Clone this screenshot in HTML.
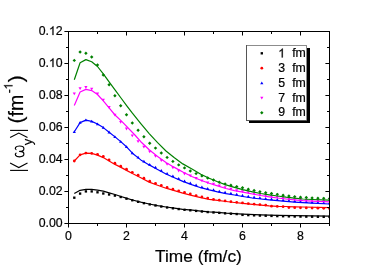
<!DOCTYPE html><html><head><meta charset="utf-8"><style>html,body{margin:0;padding:0;background:#fff}svg{display:block}text{font-family:"Liberation Sans",sans-serif;fill:#000;stroke:#000;stroke-width:.2px}</style></head><body>
<svg width="383" height="268" viewBox="0 0 383 268">
<rect width="383" height="268" fill="#fff"/>
<defs><clipPath id="c"><rect x="68" y="31" width="262" height="193"/></clipPath><filter id="f" x="0" y="0" width="383" height="268" filterUnits="userSpaceOnUse" color-interpolation-filters="sRGB"><feOffset dx="0" dy="0"/></filter></defs>
<g clip-path="url(#c)">
<path d="M74.3 193.5 L80.1 190.3 L85.9 189.4 L91.7 189.4 L97.5 190.1 L103.3 191.1 L109.1 192.8 L115.0 194.5 L121.0 196.5 L127.0 198.4 L132.4 200.0 L140.8 202.2 L149.2 204.0 L157.6 205.6 L166.0 207.0 L174.4 208.2 L182.8 209.3 L192.4 210.2 L200.8 211.1 L209.2 211.9 L217.6 212.4 L226.0 213.1 L234.4 213.6 L242.8 214.1 L260.8 214.8 L277.6 215.3 L294.4 215.7 L329.5 216.1" fill="none" stroke="#000000" stroke-width="1.2" stroke-linejoin="round"/>
<rect x="73.12" y="196.52" width="2.36" height="2.36" fill="#000000"/>
<rect x="78.92" y="192.42" width="2.36" height="2.36" fill="#000000"/>
<rect x="84.72" y="190.22" width="2.36" height="2.36" fill="#000000"/>
<rect x="90.52" y="190.22" width="2.36" height="2.36" fill="#000000"/>
<rect x="96.32" y="191.12" width="2.36" height="2.36" fill="#000000"/>
<rect x="102.12" y="192.32" width="2.36" height="2.36" fill="#000000"/>
<rect x="107.92" y="193.32" width="2.36" height="2.36" fill="#000000"/>
<rect x="113.72" y="194.42" width="2.36" height="2.36" fill="#000000"/>
<rect x="119.52" y="195.82" width="2.36" height="2.36" fill="#000000"/>
<rect x="125.32" y="197.52" width="2.36" height="2.36" fill="#000000"/>
<rect x="131.12" y="199.09" width="2.36" height="2.36" fill="#000000"/>
<rect x="136.92" y="200.61" width="2.36" height="2.36" fill="#000000"/>
<rect x="142.72" y="201.98" width="2.36" height="2.36" fill="#000000"/>
<rect x="148.52" y="203.22" width="2.36" height="2.36" fill="#000000"/>
<rect x="154.32" y="204.32" width="2.36" height="2.36" fill="#000000"/>
<rect x="160.12" y="205.34" width="2.36" height="2.36" fill="#000000"/>
<rect x="165.92" y="206.28" width="2.36" height="2.36" fill="#000000"/>
<rect x="171.72" y="207.11" width="2.36" height="2.36" fill="#000000"/>
<rect x="177.52" y="207.88" width="2.36" height="2.36" fill="#000000"/>
<rect x="183.32" y="208.58" width="2.36" height="2.36" fill="#000000"/>
<rect x="189.12" y="209.12" width="2.36" height="2.36" fill="#000000"/>
<rect x="194.92" y="209.72" width="2.36" height="2.36" fill="#000000"/>
<rect x="200.72" y="210.32" width="2.36" height="2.36" fill="#000000"/>
<rect x="206.52" y="210.88" width="2.36" height="2.36" fill="#000000"/>
<rect x="212.32" y="211.28" width="2.36" height="2.36" fill="#000000"/>
<rect x="218.12" y="211.66" width="2.36" height="2.36" fill="#000000"/>
<rect x="223.92" y="212.15" width="2.36" height="2.36" fill="#000000"/>
<rect x="229.72" y="212.51" width="2.36" height="2.36" fill="#000000"/>
<rect x="235.52" y="212.86" width="2.36" height="2.36" fill="#000000"/>
<rect x="241.32" y="213.70" width="2.36" height="2.36" fill="#000000"/>
<rect x="247.12" y="213.93" width="2.36" height="2.36" fill="#000000"/>
<rect x="252.92" y="214.16" width="2.36" height="2.36" fill="#000000"/>
<rect x="258.72" y="214.39" width="2.36" height="2.36" fill="#000000"/>
<rect x="264.52" y="214.57" width="2.36" height="2.36" fill="#000000"/>
<rect x="270.32" y="214.74" width="2.36" height="2.36" fill="#000000"/>
<rect x="276.12" y="214.91" width="2.36" height="2.36" fill="#000000"/>
<rect x="281.92" y="215.05" width="2.36" height="2.36" fill="#000000"/>
<rect x="287.72" y="215.19" width="2.36" height="2.36" fill="#000000"/>
<rect x="293.52" y="215.32" width="2.36" height="2.36" fill="#000000"/>
<rect x="299.32" y="215.39" width="2.36" height="2.36" fill="#000000"/>
<rect x="305.12" y="215.46" width="2.36" height="2.36" fill="#000000"/>
<rect x="310.92" y="215.52" width="2.36" height="2.36" fill="#000000"/>
<rect x="316.72" y="215.59" width="2.36" height="2.36" fill="#000000"/>
<rect x="322.52" y="215.65" width="2.36" height="2.36" fill="#000000"/>
<rect x="328.32" y="215.72" width="2.36" height="2.36" fill="#000000"/>
<path d="M74.3 161.0 L80.1 154.8 L85.9 153.1 L91.7 153.4 L97.5 155.1 L103.3 157.6 L109.1 161.0 L115.0 164.4 L121.0 167.4 L127.0 170.6 L132.4 173.5 L140.8 177.7 L149.2 182.1 L157.6 185.2 L166.0 188.2 L174.4 190.7 L182.8 193.1 L192.4 195.6 L200.8 197.6 L209.2 199.3 L217.6 200.4 L226.0 201.5 L234.4 202.5 L242.8 203.4 L252.4 204.3 L260.8 205.1 L269.2 205.8 L277.6 206.3 L286.0 206.5 L294.4 206.8 L302.8 207.0 L329.5 207.6" fill="none" stroke="#ff0000" stroke-width="1.2" stroke-linejoin="round"/>
<circle cx="74.30" cy="161.00" r="1.38" fill="#ff0000"/>
<circle cx="80.10" cy="154.80" r="1.38" fill="#ff0000"/>
<circle cx="85.90" cy="153.10" r="1.38" fill="#ff0000"/>
<circle cx="91.70" cy="153.40" r="1.38" fill="#ff0000"/>
<circle cx="97.50" cy="154.30" r="1.38" fill="#ff0000"/>
<circle cx="103.30" cy="156.50" r="1.38" fill="#ff0000"/>
<circle cx="109.10" cy="159.90" r="1.38" fill="#ff0000"/>
<circle cx="114.90" cy="163.24" r="1.38" fill="#ff0000"/>
<circle cx="120.70" cy="166.15" r="1.38" fill="#ff0000"/>
<circle cx="126.50" cy="169.23" r="1.38" fill="#ff0000"/>
<circle cx="132.30" cy="172.35" r="1.38" fill="#ff0000"/>
<circle cx="138.10" cy="175.25" r="1.38" fill="#ff0000"/>
<circle cx="143.90" cy="178.22" r="1.38" fill="#ff0000"/>
<circle cx="149.70" cy="181.18" r="1.38" fill="#ff0000"/>
<circle cx="155.50" cy="183.32" r="1.38" fill="#ff0000"/>
<circle cx="161.30" cy="185.42" r="1.38" fill="#ff0000"/>
<circle cx="167.10" cy="187.43" r="1.38" fill="#ff0000"/>
<circle cx="172.90" cy="189.15" r="1.38" fill="#ff0000"/>
<circle cx="178.70" cy="190.83" r="1.38" fill="#ff0000"/>
<circle cx="184.50" cy="192.44" r="1.38" fill="#ff0000"/>
<circle cx="190.30" cy="193.95" r="1.38" fill="#ff0000"/>
<circle cx="196.10" cy="195.58" r="1.38" fill="#ff0000"/>
<circle cx="201.90" cy="196.92" r="1.38" fill="#ff0000"/>
<circle cx="207.70" cy="198.10" r="1.38" fill="#ff0000"/>
<circle cx="213.50" cy="199.46" r="1.38" fill="#ff0000"/>
<circle cx="219.30" cy="200.22" r="1.38" fill="#ff0000"/>
<circle cx="225.10" cy="200.98" r="1.38" fill="#ff0000"/>
<circle cx="230.90" cy="201.68" r="1.38" fill="#ff0000"/>
<circle cx="236.70" cy="202.35" r="1.38" fill="#ff0000"/>
<circle cx="242.50" cy="202.97" r="1.38" fill="#ff0000"/>
<circle cx="248.30" cy="203.52" r="1.38" fill="#ff0000"/>
<circle cx="254.10" cy="204.06" r="1.38" fill="#ff0000"/>
<circle cx="259.90" cy="204.61" r="1.38" fill="#ff0000"/>
<circle cx="265.70" cy="205.11" r="1.38" fill="#ff0000"/>
<circle cx="271.50" cy="206.14" r="1.38" fill="#ff0000"/>
<circle cx="277.30" cy="206.48" r="1.38" fill="#ff0000"/>
<circle cx="283.10" cy="206.63" r="1.38" fill="#ff0000"/>
<circle cx="288.90" cy="207.50" r="1.38" fill="#ff0000"/>
<circle cx="294.70" cy="207.71" r="1.38" fill="#ff0000"/>
<circle cx="300.50" cy="207.85" r="1.38" fill="#ff0000"/>
<circle cx="306.30" cy="207.98" r="1.38" fill="#ff0000"/>
<circle cx="312.10" cy="208.11" r="1.38" fill="#ff0000"/>
<circle cx="317.90" cy="208.24" r="1.38" fill="#ff0000"/>
<circle cx="323.70" cy="208.37" r="1.38" fill="#ff0000"/>
<circle cx="329.50" cy="208.50" r="1.38" fill="#ff0000"/>
<path d="M74.3 131.8 L80.1 122.6 L85.9 120.1 L91.7 121.4 L97.5 124.0 L103.3 127.6 L109.1 132.2 L115.0 136.9 L121.0 141.9 L127.0 147.3 L132.4 153.2 L140.8 159.9 L149.2 164.9 L157.6 169.5 L166.0 174.0 L174.4 177.8 L182.8 181.4 L192.4 184.9 L200.8 187.7 L209.2 189.9 L217.6 191.9 L226.0 193.6 L234.4 195.0 L242.8 196.5 L252.4 198.0 L260.8 199.0 L269.2 199.9 L277.6 200.7 L286.0 201.4 L294.4 202.1 L302.8 202.7 L312.0 203.2 L329.5 204.0" fill="none" stroke="#0000ff" stroke-width="1.2" stroke-linejoin="round"/>
<path d="M74.30 130.20 L75.90 133.00 L72.70 133.00Z" fill="#0000ff"/>
<path d="M80.10 121.00 L81.70 123.80 L78.50 123.80Z" fill="#0000ff"/>
<path d="M85.90 118.50 L87.50 121.30 L84.30 121.30Z" fill="#0000ff"/>
<path d="M91.70 119.80 L93.30 122.60 L90.10 122.60Z" fill="#0000ff"/>
<path d="M97.50 122.40 L99.10 125.20 L95.90 125.20Z" fill="#0000ff"/>
<path d="M103.30 126.00 L104.90 128.80 L101.70 128.80Z" fill="#0000ff"/>
<path d="M109.10 130.60 L110.70 133.40 L107.50 133.40Z" fill="#0000ff"/>
<path d="M114.90 135.22 L116.50 138.02 L113.30 138.02Z" fill="#0000ff"/>
<path d="M120.70 140.05 L122.30 142.85 L119.10 142.85Z" fill="#0000ff"/>
<path d="M126.50 145.25 L128.10 148.05 L124.90 148.05Z" fill="#0000ff"/>
<path d="M132.30 151.49 L133.90 154.29 L130.70 154.29Z" fill="#0000ff"/>
<path d="M138.10 155.65 L139.70 158.45 L136.50 158.45Z" fill="#0000ff"/>
<path d="M143.90 159.65 L145.50 162.45 L142.30 162.45Z" fill="#0000ff"/>
<path d="M149.70 163.07 L151.30 165.87 L148.10 165.87Z" fill="#0000ff"/>
<path d="M155.50 165.75 L157.10 168.55 L153.90 168.55Z" fill="#0000ff"/>
<path d="M161.30 168.88 L162.90 171.68 L159.70 171.68Z" fill="#0000ff"/>
<path d="M167.10 171.90 L168.70 174.70 L165.50 174.70Z" fill="#0000ff"/>
<path d="M172.90 174.52 L174.50 177.32 L171.30 177.32Z" fill="#0000ff"/>
<path d="M178.70 177.04 L180.30 179.84 L177.10 179.84Z" fill="#0000ff"/>
<path d="M184.50 179.42 L186.10 182.22 L182.90 182.22Z" fill="#0000ff"/>
<path d="M190.30 181.53 L191.90 184.33 L188.70 184.33Z" fill="#0000ff"/>
<path d="M196.10 183.53 L197.70 186.33 L194.50 186.33Z" fill="#0000ff"/>
<path d="M201.90 185.39 L203.50 188.19 L200.30 188.19Z" fill="#0000ff"/>
<path d="M207.70 186.91 L209.30 189.71 L206.10 189.71Z" fill="#0000ff"/>
<path d="M213.50 188.32 L215.10 191.12 L211.90 191.12Z" fill="#0000ff"/>
<path d="M219.30 189.64 L220.90 192.44 L217.70 192.44Z" fill="#0000ff"/>
<path d="M225.10 190.82 L226.70 193.62 L223.50 193.62Z" fill="#0000ff"/>
<path d="M230.90 191.82 L232.50 194.62 L229.30 194.62Z" fill="#0000ff"/>
<path d="M236.70 192.81 L238.30 195.61 L235.10 195.61Z" fill="#0000ff"/>
<path d="M242.50 193.85 L244.10 196.65 L240.90 196.65Z" fill="#0000ff"/>
<path d="M248.30 194.76 L249.90 197.56 L246.70 197.56Z" fill="#0000ff"/>
<path d="M254.10 195.60 L255.70 198.40 L252.50 198.40Z" fill="#0000ff"/>
<path d="M259.90 196.29 L261.50 199.09 L258.30 199.09Z" fill="#0000ff"/>
<path d="M265.70 196.93 L267.30 199.72 L264.10 199.72Z" fill="#0000ff"/>
<path d="M271.50 197.52 L273.10 200.32 L269.90 200.32Z" fill="#0000ff"/>
<path d="M277.30 198.07 L278.90 200.87 L275.70 200.87Z" fill="#0000ff"/>
<path d="M283.10 198.56 L284.70 201.36 L281.50 201.36Z" fill="#0000ff"/>
<path d="M288.90 199.04 L290.50 201.84 L287.30 201.84Z" fill="#0000ff"/>
<path d="M294.70 199.52 L296.30 202.32 L293.10 202.32Z" fill="#0000ff"/>
<path d="M300.50 199.94 L302.10 202.74 L298.90 202.74Z" fill="#0000ff"/>
<path d="M306.30 200.29 L307.90 203.09 L304.70 203.09Z" fill="#0000ff"/>
<path d="M312.10 200.60 L313.70 203.40 L310.50 203.40Z" fill="#0000ff"/>
<path d="M317.90 200.87 L319.50 203.67 L316.30 203.67Z" fill="#0000ff"/>
<path d="M323.70 201.13 L325.30 203.93 L322.10 203.93Z" fill="#0000ff"/>
<path d="M329.50 201.40 L331.10 204.20 L327.90 204.20Z" fill="#0000ff"/>
<path d="M74.3 105.4 L80.1 92.0 L85.9 89.4 L91.7 90.6 L97.5 94.5 L103.3 100.9 L109.1 107.9 L115.0 115.0 L122.0 121.6 L134.9 135.0 L140.8 141.7 L149.2 149.8 L157.6 156.5 L166.0 162.4 L174.4 167.4 L182.8 172.0 L192.4 176.8 L200.8 180.2 L209.2 183.2 L217.6 185.9 L226.0 188.5 L234.4 190.6 L242.8 192.2 L252.4 194.0 L260.8 195.5 L269.2 196.8 L277.6 198.0 L286.0 199.0 L294.4 199.9 L302.8 200.7 L312.0 201.2 L329.5 201.9" fill="none" stroke="#ff00ff" stroke-width="1.2" stroke-linejoin="round"/>
<path d="M74.30 95.20 L75.90 92.40 L72.70 92.40Z" fill="#ff00ff"/>
<path d="M80.10 90.10 L81.70 87.30 L78.50 87.30Z" fill="#ff00ff"/>
<path d="M85.90 88.90 L87.50 86.10 L84.30 86.10Z" fill="#ff00ff"/>
<path d="M91.70 90.60 L93.30 87.80 L90.10 87.80Z" fill="#ff00ff"/>
<path d="M97.50 95.20 L99.10 92.40 L95.90 92.40Z" fill="#ff00ff"/>
<path d="M103.30 101.60 L104.90 98.80 L101.70 98.80Z" fill="#ff00ff"/>
<path d="M109.10 108.90 L110.70 106.10 L107.50 106.10Z" fill="#ff00ff"/>
<path d="M114.90 116.60 L116.50 113.80 L113.30 113.80Z" fill="#ff00ff"/>
<path d="M120.70 123.70 L122.30 120.90 L119.10 120.90Z" fill="#ff00ff"/>
<path d="M126.50 130.40 L128.10 127.60 L124.90 127.60Z" fill="#ff00ff"/>
<path d="M132.30 137.30 L133.90 134.50 L130.70 134.50Z" fill="#ff00ff"/>
<path d="M138.10 143.10 L139.70 140.30 L136.50 140.30Z" fill="#ff00ff"/>
<path d="M143.90 148.50 L145.50 145.70 L142.30 145.70Z" fill="#ff00ff"/>
<path d="M149.70 153.20 L151.30 150.40 L148.10 150.40Z" fill="#ff00ff"/>
<path d="M155.50 157.80 L157.10 155.00 L153.90 155.00Z" fill="#ff00ff"/>
<path d="M161.30 162.10 L162.90 159.30 L159.70 159.30Z" fill="#ff00ff"/>
<path d="M167.10 165.80 L168.70 163.00 L165.50 163.00Z" fill="#ff00ff"/>
<path d="M172.90 169.20 L174.50 166.40 L171.30 166.40Z" fill="#ff00ff"/>
<path d="M178.70 172.40 L180.30 169.60 L177.10 169.60Z" fill="#ff00ff"/>
<path d="M184.50 175.40 L186.10 172.60 L182.90 172.60Z" fill="#ff00ff"/>
<path d="M190.30 177.35 L191.90 174.55 L188.70 174.55Z" fill="#ff00ff"/>
<path d="M196.10 179.90 L197.70 177.10 L194.50 177.10Z" fill="#ff00ff"/>
<path d="M201.90 182.19 L203.50 179.39 L200.30 179.39Z" fill="#ff00ff"/>
<path d="M207.70 184.26 L209.30 181.46 L206.10 181.46Z" fill="#ff00ff"/>
<path d="M213.50 185.48 L215.10 182.68 L211.90 182.68Z" fill="#ff00ff"/>
<path d="M219.30 187.33 L220.90 184.53 L217.70 184.53Z" fill="#ff00ff"/>
<path d="M225.10 189.12 L226.70 186.32 L223.50 186.32Z" fill="#ff00ff"/>
<path d="M230.90 190.62 L232.50 187.83 L229.30 187.83Z" fill="#ff00ff"/>
<path d="M236.70 191.94 L238.30 189.14 L235.10 189.14Z" fill="#ff00ff"/>
<path d="M242.50 193.04 L244.10 190.24 L240.90 190.24Z" fill="#ff00ff"/>
<path d="M248.30 194.13 L249.90 191.33 L246.70 191.33Z" fill="#ff00ff"/>
<path d="M254.10 195.20 L255.70 192.40 L252.50 192.40Z" fill="#ff00ff"/>
<path d="M259.90 196.24 L261.50 193.44 L258.30 193.44Z" fill="#ff00ff"/>
<path d="M265.70 197.16 L267.30 194.36 L264.10 194.36Z" fill="#ff00ff"/>
<path d="M271.50 198.03 L273.10 195.23 L269.90 195.23Z" fill="#ff00ff"/>
<path d="M277.30 198.86 L278.90 196.06 L275.70 196.06Z" fill="#ff00ff"/>
<path d="M283.10 199.55 L284.70 196.75 L281.50 196.75Z" fill="#ff00ff"/>
<path d="M288.90 200.21 L290.50 197.41 L287.30 197.41Z" fill="#ff00ff"/>
<path d="M294.70 200.83 L296.30 198.03 L293.10 198.03Z" fill="#ff00ff"/>
<path d="M300.50 201.38 L302.10 198.58 L298.90 198.58Z" fill="#ff00ff"/>
<path d="M306.30 201.79 L307.90 198.99 L304.70 198.99Z" fill="#ff00ff"/>
<path d="M312.10 202.10 L313.70 199.30 L310.50 199.30Z" fill="#ff00ff"/>
<path d="M317.90 202.34 L319.50 199.54 L316.30 199.54Z" fill="#ff00ff"/>
<path d="M323.70 202.57 L325.30 199.77 L322.10 199.77Z" fill="#ff00ff"/>
<path d="M329.50 202.80 L331.10 200.00 L327.90 200.00Z" fill="#ff00ff"/>
<path d="M74.3 79.7 L80.1 62.8 L85.9 59.6 L91.7 61.8 L97.5 66.5 L103.3 73.8 L109.1 81.8 L115.0 89.9 L121.0 98.0 L127.0 106.1 L132.4 113.2 L140.8 123.6 L149.2 133.6 L157.6 142.6 L166.0 151.0 L174.4 157.7 L182.8 163.9 L192.4 169.2 L200.8 174.3 L209.2 178.2 L217.6 181.8 L226.0 184.9 L234.4 187.4 L242.8 189.7 L252.4 191.8 L260.8 193.5 L269.2 194.8 L277.6 196.0 L286.0 197.2 L294.4 198.2 L302.8 199.0 L312.0 199.5 L329.5 200.2" fill="none" stroke="#008000" stroke-width="1.2" stroke-linejoin="round"/>
<path d="M74.30 58.68 L76.02 60.40 L74.30 62.12 L72.58 60.40Z" fill="#008000"/>
<path d="M80.10 50.28 L81.82 52.00 L80.10 53.72 L78.38 52.00Z" fill="#008000"/>
<path d="M85.90 51.58 L87.62 53.30 L85.90 55.02 L84.18 53.30Z" fill="#008000"/>
<path d="M91.70 55.28 L93.42 57.00 L91.70 58.72 L89.98 57.00Z" fill="#008000"/>
<path d="M97.50 63.18 L99.22 64.90 L97.50 66.62 L95.78 64.90Z" fill="#008000"/>
<path d="M103.30 73.28 L105.02 75.00 L103.30 76.72 L101.58 75.00Z" fill="#008000"/>
<path d="M109.10 82.98 L110.82 84.70 L109.10 86.42 L107.38 84.70Z" fill="#008000"/>
<path d="M114.90 93.98 L116.62 95.70 L114.90 97.42 L113.18 95.70Z" fill="#008000"/>
<path d="M120.70 103.98 L122.42 105.70 L120.70 107.42 L118.98 105.70Z" fill="#008000"/>
<path d="M126.50 112.98 L128.22 114.70 L126.50 116.42 L124.78 114.70Z" fill="#008000"/>
<path d="M132.30 121.28 L134.02 123.00 L132.30 124.72 L130.58 123.00Z" fill="#008000"/>
<path d="M138.10 128.58 L139.82 130.30 L138.10 132.02 L136.38 130.30Z" fill="#008000"/>
<path d="M143.90 135.08 L145.62 136.80 L143.90 138.52 L142.18 136.80Z" fill="#008000"/>
<path d="M149.70 141.48 L151.42 143.20 L149.70 144.92 L147.98 143.20Z" fill="#008000"/>
<path d="M155.50 146.38 L157.22 148.10 L155.50 149.82 L153.78 148.10Z" fill="#008000"/>
<path d="M161.30 151.28 L163.02 153.00 L161.30 154.72 L159.58 153.00Z" fill="#008000"/>
<path d="M167.10 155.68 L168.82 157.40 L167.10 159.12 L165.38 157.40Z" fill="#008000"/>
<path d="M172.90 159.68 L174.62 161.40 L172.90 163.12 L171.18 161.40Z" fill="#008000"/>
<path d="M178.70 163.18 L180.42 164.90 L178.70 166.62 L176.98 164.90Z" fill="#008000"/>
<path d="M184.50 166.18 L186.22 167.90 L184.50 169.62 L182.78 167.90Z" fill="#008000"/>
<path d="M190.30 169.28 L192.02 171.00 L190.30 172.72 L188.58 171.00Z" fill="#008000"/>
<path d="M196.10 171.88 L197.82 173.60 L196.10 175.32 L194.38 173.60Z" fill="#008000"/>
<path d="M201.90 174.18 L203.62 175.90 L201.90 177.62 L200.18 175.90Z" fill="#008000"/>
<path d="M207.70 176.28 L209.42 178.00 L207.70 179.72 L205.98 178.00Z" fill="#008000"/>
<path d="M213.50 178.28 L215.22 180.00 L213.50 181.72 L211.78 180.00Z" fill="#008000"/>
<path d="M219.30 180.48 L221.02 182.20 L219.30 183.92 L217.58 182.20Z" fill="#008000"/>
<path d="M225.10 182.28 L226.82 184.00 L225.10 185.72 L223.38 184.00Z" fill="#008000"/>
<path d="M230.90 183.48 L232.62 185.20 L230.90 186.92 L229.18 185.20Z" fill="#008000"/>
<path d="M236.70 184.88 L238.42 186.60 L236.70 188.32 L234.98 186.60Z" fill="#008000"/>
<path d="M242.50 185.98 L244.22 187.70 L242.50 189.42 L240.78 187.70Z" fill="#008000"/>
<path d="M248.30 187.58 L250.02 189.30 L248.30 191.02 L246.58 189.30Z" fill="#008000"/>
<path d="M254.10 188.82 L255.82 190.54 L254.10 192.26 L252.38 190.54Z" fill="#008000"/>
<path d="M259.90 190.00 L261.62 191.72 L259.90 193.44 L258.18 191.72Z" fill="#008000"/>
<path d="M265.70 190.94 L267.42 192.66 L265.70 194.38 L263.98 192.66Z" fill="#008000"/>
<path d="M271.50 191.81 L273.22 193.53 L271.50 195.25 L269.78 193.53Z" fill="#008000"/>
<path d="M277.30 192.64 L279.02 194.36 L277.30 196.08 L275.58 194.36Z" fill="#008000"/>
<path d="M283.10 193.47 L284.82 195.19 L283.10 196.91 L281.38 195.19Z" fill="#008000"/>
<path d="M288.90 194.23 L290.62 195.95 L288.90 197.67 L287.18 195.95Z" fill="#008000"/>
<path d="M294.70 194.91 L296.42 196.63 L294.70 198.35 L292.98 196.63Z" fill="#008000"/>
<path d="M300.50 195.46 L302.22 197.18 L300.50 198.90 L298.78 197.18Z" fill="#008000"/>
<path d="M306.30 195.87 L308.02 197.59 L306.30 199.31 L304.58 197.59Z" fill="#008000"/>
<path d="M312.10 196.18 L313.82 197.90 L312.10 199.62 L310.38 197.90Z" fill="#008000"/>
<path d="M317.90 196.42 L319.62 198.14 L317.90 199.86 L316.18 198.14Z" fill="#008000"/>
<path d="M323.70 196.65 L325.42 198.37 L323.70 200.09 L321.98 198.37Z" fill="#008000"/>
<path d="M329.50 196.88 L331.22 198.60 L329.50 200.32 L327.78 198.60Z" fill="#008000"/>
</g>
<g stroke="#000" stroke-width="1" shape-rendering="crispEdges" fill="none">
<rect x="68.5" y="31.5" width="261" height="192"/>
</g>
<rect x="68" y="224" width="1" height="3.5" fill="#000"/>
<rect x="97" y="224" width="1" height="2" fill="#000"/>
<rect x="97" y="32" width="1" height="2" fill="#000"/>
<rect x="126" y="224" width="1" height="3.5" fill="#000"/>
<rect x="126" y="32" width="1" height="3.5" fill="#000"/>
<rect x="155" y="224" width="1" height="2" fill="#000"/>
<rect x="155" y="32" width="1" height="2" fill="#000"/>
<rect x="184" y="224" width="1" height="3.5" fill="#000"/>
<rect x="184" y="32" width="1" height="3.5" fill="#000"/>
<rect x="213" y="224" width="1" height="2" fill="#000"/>
<rect x="213" y="32" width="1" height="2" fill="#000"/>
<rect x="242" y="224" width="1" height="3.5" fill="#000"/>
<rect x="242" y="32" width="1" height="3.5" fill="#000"/>
<rect x="271" y="224" width="1" height="2" fill="#000"/>
<rect x="271" y="32" width="1" height="2" fill="#000"/>
<rect x="300" y="224" width="1" height="3.5" fill="#000"/>
<rect x="300" y="32" width="1" height="3.5" fill="#000"/>
<rect x="329" y="224" width="1" height="2" fill="#000"/>
<rect x="64.4" y="223" width="3.6" height="1" fill="#000"/>
<rect x="66" y="207" width="2" height="1" fill="#000"/>
<rect x="327" y="207" width="2" height="1" fill="#000"/>
<rect x="64.4" y="191" width="3.6" height="1" fill="#000"/>
<rect x="325.4" y="191" width="3.6" height="1" fill="#000"/>
<rect x="66" y="175" width="2" height="1" fill="#000"/>
<rect x="327" y="175" width="2" height="1" fill="#000"/>
<rect x="64.4" y="159" width="3.6" height="1" fill="#000"/>
<rect x="325.4" y="159" width="3.6" height="1" fill="#000"/>
<rect x="66" y="143" width="2" height="1" fill="#000"/>
<rect x="327" y="143" width="2" height="1" fill="#000"/>
<rect x="64.4" y="127" width="3.6" height="1" fill="#000"/>
<rect x="325.4" y="127" width="3.6" height="1" fill="#000"/>
<rect x="66" y="111" width="2" height="1" fill="#000"/>
<rect x="327" y="111" width="2" height="1" fill="#000"/>
<rect x="64.4" y="95" width="3.6" height="1" fill="#000"/>
<rect x="325.4" y="95" width="3.6" height="1" fill="#000"/>
<rect x="66" y="79" width="2" height="1" fill="#000"/>
<rect x="327" y="79" width="2" height="1" fill="#000"/>
<rect x="64.4" y="63" width="3.6" height="1" fill="#000"/>
<rect x="325.4" y="63" width="3.6" height="1" fill="#000"/>
<rect x="66" y="47" width="2" height="1" fill="#000"/>
<rect x="327" y="47" width="2" height="1" fill="#000"/>
<rect x="64.4" y="31" width="3.6" height="1" fill="#000"/>
<g filter="url(#f)">
<text x="62.6" y="227.1" font-size="12.3" text-anchor="end">0.00</text>
<text x="62.6" y="195.1" font-size="12.3" text-anchor="end">0.02</text>
<text x="62.6" y="163.1" font-size="12.3" text-anchor="end">0.04</text>
<text x="62.6" y="131.1" font-size="12.3" text-anchor="end">0.06</text>
<text x="62.6" y="99.1" font-size="12.3" text-anchor="end">0.08</text>
<text x="48.92" y="67.1" font-size="12.3" text-anchor="end">0.</text>
<path transform="translate(48.92,67.10) scale(0.00601,-0.00601)" d="M763 0H583V1147Q518 1085 412.5 1023T223 930V1104Q374 1175 487 1276T647 1472H763Z" fill="#000" stroke="#000" stroke-width="33.3"/>
<text x="55.76" y="67.1" font-size="12.3">0</text>
<text x="48.92" y="35.1" font-size="12.3" text-anchor="end">0.</text>
<path transform="translate(48.92,35.10) scale(0.00601,-0.00601)" d="M763 0H583V1147Q518 1085 412.5 1023T223 930V1104Q374 1175 487 1276T647 1472H763Z" fill="#000" stroke="#000" stroke-width="33.3"/>
<text x="55.76" y="35.1" font-size="12.3">2</text>
<text x="68.5" y="239.8" font-size="12.3" text-anchor="middle">0</text>
<text x="126.5" y="239.8" font-size="12.3" text-anchor="middle">2</text>
<text x="184.5" y="239.8" font-size="12.3" text-anchor="middle">4</text>
<text x="242.5" y="239.8" font-size="12.3" text-anchor="middle">6</text>
<text x="300.5" y="239.8" font-size="12.3" text-anchor="middle">8</text>
<text x="155.1" y="261.6" font-size="17.3">Time (fm/c)</text>
<rect x="249" y="48" width="61" height="75" fill="#000"/>
<rect x="246" y="45" width="61" height="75.5" fill="#fff"/>
<g shape-rendering="crispEdges" stroke-width="1"><line x1="246" y1="45.5" x2="307" y2="45.5" stroke="#8c8c8c"/><line x1="306.5" y1="45" x2="306.5" y2="120" stroke="#8c8c8c"/><line x1="246.5" y1="45" x2="246.5" y2="120.5" stroke="#555"/><line x1="246" y1="120" x2="307" y2="120" stroke="#555"/></g>
<rect x="260.62" y="52.12" width="2.36" height="2.36" fill="#000000"/>
<path transform="translate(278.20,57.40) scale(0.00601,-0.00601)" d="M763 0H583V1147Q518 1085 412.5 1023T223 930V1104Q374 1175 487 1276T647 1472H763Z" fill="#000" stroke="#000" stroke-width="33.3"/>
<text x="292.2" y="57.4" font-size="12.3">fm</text>
<circle cx="261.80" cy="68.15" r="1.38" fill="#ff0000"/>
<text x="278.2" y="72.1" font-size="12.3">3</text>
<text x="292.2" y="72.1" font-size="12.3">fm</text>
<path d="M261.80 81.40 L263.40 84.20 L260.20 84.20Z" fill="#0000ff"/>
<text x="278.2" y="86.8" font-size="12.3">5</text>
<text x="292.2" y="86.8" font-size="12.3">fm</text>
<path d="M261.80 99.45 L263.40 96.65 L260.20 96.65Z" fill="#ff00ff"/>
<text x="278.2" y="101.5" font-size="12.3">7</text>
<text x="292.2" y="101.5" font-size="12.3">fm</text>
<path d="M261.80 110.98 L263.52 112.70 L261.80 114.42 L260.08 112.70Z" fill="#008000"/>
<text x="278.2" y="116.2" font-size="12.3">9</text>
<text x="292.2" y="116.2" font-size="12.3">fm</text>
</g>
<g stroke="#000" stroke-width="1.1" fill="none">
<line x1="10.1" y1="170.4" x2="28" y2="170.4"/>
<polyline points="10.1,163.1 18.8,167.6 27.5,163.1"/>
<polyline points="10.1,137.6 18.8,133.1 27.5,137.6"/>
<line x1="10.1" y1="130.4" x2="28" y2="130.4"/>
</g>
<g filter="url(#f)"><g transform="translate(22.7,0) rotate(-90)">
<path transform="translate(-157.5,1.8)" d="M4.3,-8.5 C3.3,-9.9 0.7,-9.3 0.7,-4.9 C0.7,-1.7 2.0,-0.6 3.4,-0.6 C5.0,-0.6 6.1,-2.0 6.1,-4.9 C6.1,-2.0 7.2,-0.6 8.8,-0.6 C10.2,-0.6 11.5,-1.7 11.5,-4.9 C11.5,-9.3 8.9,-9.9 7.9,-8.5" fill="none" stroke="#000" stroke-width="1.15" stroke-linecap="round" stroke-linejoin="round"/>
<text x="-145.3" y="9.3" font-size="13">y</text>
<text x="-123.4" y="0.2" font-size="21">(</text>
<text x="-116.4" y="0" font-size="19.5">fm</text>
<text x="-93.3" y="-10.2" font-size="12">-</text>
<path transform="translate(-89.60,-10.20) scale(0.00586,-0.00586)" d="M763 0H583V1147Q518 1085 412.5 1023T223 930V1104Q374 1175 487 1276T647 1472H763Z" fill="#000" stroke="#000" stroke-width="34.1"/>
<text x="-82.3" y="0.2" font-size="21">)</text>
</g></g>
</svg></body></html>
